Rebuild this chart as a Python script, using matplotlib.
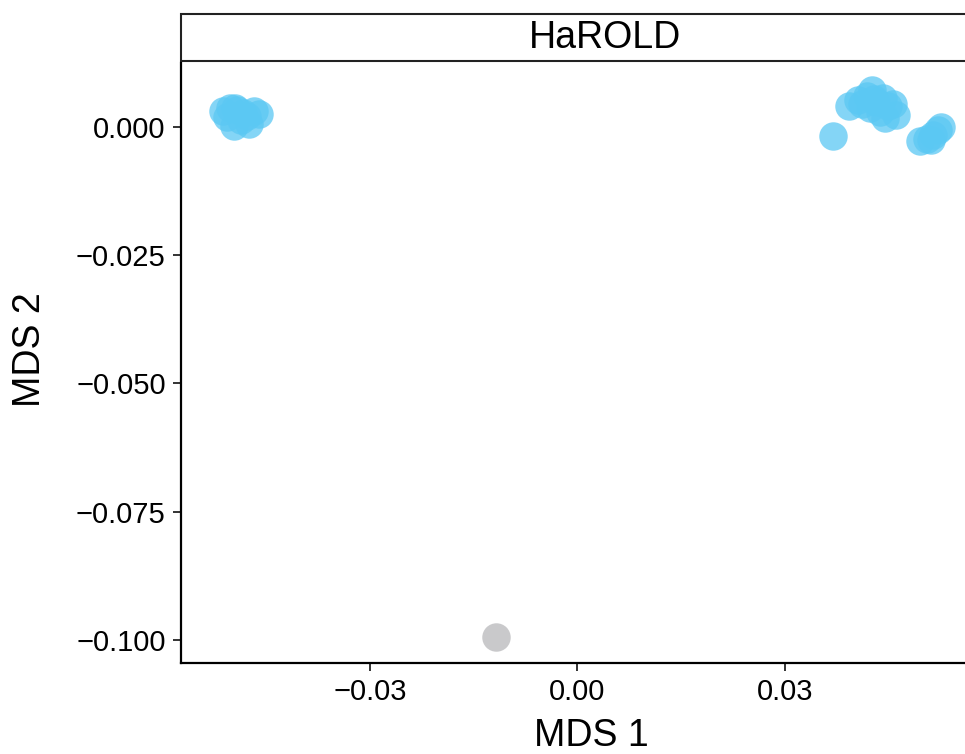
import matplotlib.pyplot as plt
from matplotlib.patches import Rectangle

plt.rcParams['font.family'] = ['Liberation Sans', 'DejaVu Sans']

# MDS coordinates
mds1_blue = [-0.0513, -0.0502, -0.0492, -0.0484, -0.0477, -0.0460, -0.0497, -0.0475,
             -0.0507, -0.0486, -0.0468, -0.0495,
             0.0392, 0.0406, 0.0418, 0.0426, 0.0432, 0.0442, 0.0423, 0.0438,
             0.0449, 0.0457, 0.0461, 0.0444, 0.0412, 0.0429,
             0.0370,
             0.0496, 0.0505, 0.0514, 0.0522, 0.0525, 0.0511]
mds2_blue = [0.0031, 0.0037, 0.0033, 0.0027, 0.0021, 0.0025, 0.0002, 0.0006,
             0.0020, 0.0014, 0.0032, 0.0038,
             0.0041, 0.0053, 0.0060, 0.0072, 0.0049, 0.0057, 0.0037, 0.0029,
             0.0041, 0.0045, 0.0023, 0.0018, 0.0045, 0.0055,
             -0.0018,
             -0.0027, -0.0023, -0.0016, -0.0006, 0.0000, -0.0025]
mds1_grey = [-0.0117]
mds2_grey = [-0.0994]

fig = plt.figure(figsize=(9.65, 7.54), dpi=100)
ax = fig.add_axes([0.1876, 0.1207, 0.8788, 0.7957])

ax.scatter(mds1_blue, mds2_blue, s=420, color='#5BC8F3', alpha=0.75, linewidths=0, zorder=3)
ax.scatter(mds1_grey, mds2_grey, s=420, color='#C4C4C6', alpha=0.9, linewidths=0, zorder=3)

ax.set_xlim(-0.0573, 0.0653)
ax.set_ylim(-0.1045, 0.01248)
ax.set_xticks([-0.03, 0.0, 0.03])
ax.set_xticklabels(['\u22120.03', '0.00', '0.03'])
ax.set_yticks([0.0, -0.025, -0.05, -0.075, -0.1])
ax.set_yticklabels(['0.000', '\u22120.025', '\u22120.050', '\u22120.075', '\u22120.100'])

for side in ['top', 'right']:
    ax.spines[side].set_visible(False)
for side in ['left', 'bottom']:
    ax.spines[side].set_linewidth(1.6)
    ax.spines[side].set_color('black')
ax.tick_params(direction='out', length=6, width=1.4, color='#333333',
               labelsize=21, labelcolor='black', pad=5)

ax.set_xlabel('MDS 1', fontsize=27)
ax.set_ylabel('MDS 2', fontsize=27)
ax.xaxis.set_label_coords(0.4835, -0.091)
ax.yaxis.set_label_coords(-0.157, 0.522)

# facet strip
strip = Rectangle((0, 1.003), 1, 0.0785, transform=ax.transAxes, facecolor='white',
                  edgecolor='#222222', linewidth=1.5, clip_on=False)
ax.add_patch(strip)
ax.text(0.5, 1.0425, 'HaROLD', transform=ax.transAxes, ha='center', va='center',
        fontsize=27)

fig.savefig('out.png', dpi=100)
